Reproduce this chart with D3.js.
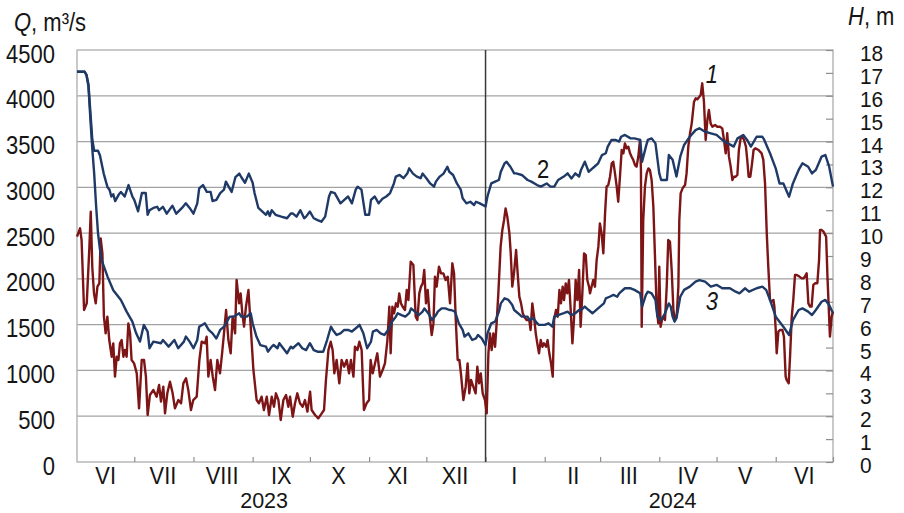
<!DOCTYPE html>
<html lang="en">
<head>
<meta charset="UTF-8">
<title>Q and H, VI 2023 – VI 2024</title>
<script src="https://d3js.org/d3.v7.min.js"></script>
<style>
  body { margin: 0; background: #fff; }
  text { font-family: "Liberation Sans", Arial, sans-serif; fill: #151515; }
</style>
</head>
<body>
<script>
// ---- data (day = days since 2023-06-01) ----
const monthLabels = ['VI', 'VII', 'VIII', 'IX', 'X', 'XI', 'XII', 'I', 'II', 'III', 'IV', 'V', 'VI'];
const yearLabels = [['2023', '2023-09-07'], ['2024', '2024-04-08']];
const qTicks = d3.range(0, 4501, 500);
const hTicks = d3.range(0, 19, 1);

// curve 1: discharge Q, m3/s
const series1 = [
  [0,2461],[1.6,2552],[2.4,2425],[3.7,1660],[5.1,1733],[6.5,2352],[7.2,2734],[8,2133],[8.9,1842],[9.8,1733],
  [10.7,1915],[11.7,1951],[12.4,2443],[13.3,2279],[14.1,1587],[15,1405],[15.9,1587],[16.9,1332],[18.2,1150],[19,1296],
  [19.9,932],[20.8,1150],[21.7,1114],[22.5,1296],[23.4,1332],[24.3,1150],[25.1,1223],[26,1150],[26.9,1514],[27.8,1405],
  [28.6,1114],[29.9,1077],[31.3,968],[32.5,586],[33.9,1114],[35.1,1114],[36.1,932],[37,513],[38.2,732],[40,786],
  [41.7,713],[43,841],[44,659],[45.2,823],[46.1,531],[47.3,750],[48.7,877],[50.1,750],[51.3,586],[53.1,677],
  [54.5,641],[55.7,859],[57.1,914],[58.3,786],[59.7,568],[60.9,677],[62.7,713],[64.1,1114],[65.3,1314],[67.1,1296],
  [67.9,1369],[68.8,932],[70,1114],[71.1,932],[72.3,786],[73.5,1114],[74.9,968],[76,1187],[77,1405],[78.1,1660],
  [79.3,1332],[80.5,1187],[81.5,1587],[82.8,1405],[83.6,1988],[84.9,1733],[85.7,1842],[86.6,1624],[87.5,1478],[88.5,1696],
  [89.8,1878],[91,1478],[92.4,1005],[94.1,677],[95.3,641],[96.7,713],[97.9,568],[99.4,713],[100.6,513],
  [102,713],[103.2,604],[104.2,750],[105.5,677],[106.7,459],[108.1,677],[109.5,732],[110.7,604],[111.6,713],[113,495],
  [114.2,641],[115.4,750],[116.8,641],[118.2,604],[119.4,677],[120.7,550],[122.1,768],[122.9,568],[124.7,513],[126.4,477],
  [128.2,531],[129.4,568],[130.4,896],[131.7,1223],[132.9,1314],[133.9,1223],[134.8,968],[136,1114],[137.4,859],[138.6,1114],
  [139.9,1041],[141.3,1114],[142.5,968],[143.5,1114],[144.8,932],[145.6,1259],[146.9,1223],[147.9,1314],[149.1,1223],[150.3,568],
  [151.7,641],[153,677],[153.8,1114],[154.9,968],[156.1,1077],[157.3,1187],[158.7,932],[160.1,1005],[161.3,1077],[162.6,1332],
  [163.6,1696],[164.3,1187],[165.2,1696],[166.1,1624],[167.1,1733],[168,1696],[168.8,1842],[169.7,1733],[170.6,1696],[171.8,1660],
  [172.7,1878],[173.6,1769],[174.8,2188],[176.2,2152],[177.4,1587],[178.3,1551],[179.3,1842],[180.2,1915],[181.1,1951],[181.9,2097],
  [182.8,1733],[183.7,1878],[184.6,1624],[185.8,1387],[186.7,1514],[187.5,2024],[188.4,1915],[189.6,2133],[190.7,2060],[191.9,2060],
  [193.1,1988],[194.2,2024],[195.4,1733],[196.6,2170],[197.5,2060],[198.4,1551],[199.4,1114],[200.3,1114],[201.1,968],[202.4,677],
  [203.6,823],[204.6,1077],[205.5,750],[206.4,896],[207.6,823],[208.8,750],[209.7,1041],[210.6,859],[211.5,968],
  [212.5,750],[213.7,677],[214.6,531],[215.5,1187],[216.3,1405],[217.2,1223],[218.1,1405],[219,1259],[219.8,1514],[220.7,1842],
  [221.9,2352],[222.8,2534],[223.7,2643],[224.5,2770],[225.4,2679],[226.5,2497],[227.2,2279],[228,1915],[228.9,2060],[230,2315],
  [230.7,2097],[231.7,1806],[232.6,1733],[233.5,1624],[234.3,1587],[235.5,1551],[236.9,1551],[237.6,1442],[238.5,1733],[239.4,1587],
  [240.3,1405],[241.1,1296],[242,1187],[242.9,1332],[243.8,1259],[244.6,1296],[245.7,1259],[246.5,1332],[247.4,1187],[248.3,1077],
  [249.2,932],[249.9,1551],[250.9,1660],[251.8,1587],[252.7,1878],[253.5,1733],[254.4,1915],[255.1,1769],[256,1951],[256.8,1842],
  [257.7,1988],[258.6,1660],[259.5,1296],[260.3,1551],[261.2,1988],[262.1,1769],[263,2097],[263.8,1478],[264.7,1842],[265.6,2279],
  [266.5,2261],[267.3,1988],[268.2,1915],
  [268.7,1842],[270.4,1988],[271.3,1915],[272.2,2206],[273.1,2352],[273.9,2606],[274.8,2497],[275.7,2279],[276.6,2716],[277.4,3007],
  [278.3,3025],[279.2,3116],[280.1,3262],[280.9,3280],[281.8,3152],[282.7,3007],[283.5,2843],[284.4,3116],[285.3,3407],[286.2,3371],
  [287,3480],[287.9,3426],[288.8,3444],[289.7,3371],[290.5,3334],[291.4,3298],[292.3,3243],[293.1,3225],[294,3334],[294.9,3517],
  [295.4,3189],[295.8,1478],[296.6,2643],[297.5,3007],[298.4,3152],[299.3,3207],[300.1,3189],[301,3080],[301.9,2788],[302.7,2279],
  [303.6,1696],[304.5,1514],[305,2133],[305.7,1478],[306.4,1551],[307.1,1587],[308,1551],[308.9,1915],[309.7,2424],[310.6,2406],
  [311.5,2097],[312.4,1660],[313.2,1551],[314.1,1587],[315,1915],[315.5,2643],[316.2,2934],[317.2,2989],[318.5,3025],[319.3,3152],
  [320.2,3444],[321.1,3589],[322,3699],
  [323.2,3935],[324.1,3972],[324.9,3961],[325.8,3983],[326.7,4008],[327.5,4136],[328.4,3935],[329.3,3517],[330.2,3735],[331,3845],
  [331.9,3699],[332.8,3662],[334.2,3681],[335.4,3662],[336.8,3662],[338,3644],[338.9,3517],[339.8,3371],[340.6,3590],[341.5,3335],
  [342.4,3226],[343.3,3080],[344.1,3116],[345,3116],[345.9,3135],[346.7,3408],[347.6,3535],[348.5,3553],[349.4,3517],[350.4,3444],
  [351.1,3298],[351.8,3116],[352.7,3116],[353.6,3262],[354.4,3408],[355.3,3426],[357,3408],[358.6,3371],
  [359.5,3300],[360.4,3044],[361.3,2498],[362.1,2134],[363,1770],[363.9,1752],[364.8,1770],[365.3,1697],[366,1442],[366.5,1187],
  [367.4,1424],[368.3,1442],[369.5,1442],[370.3,1369],[371.2,932],[371.7,896],[372.8,860],[373.5,1151],[374.4,1588],[375.2,1770],
  [376.1,2043],[377,2043],[378.4,2025],[379.6,2006],[380.5,2006],[381.3,2025],[382.2,2061],[383.1,1733],[384,1697],[384.8,1697],
  [385.7,1934],[386.6,1952],[387.8,1952],[388.7,2207],[389.2,2534],[390.1,2534],[391,2516],[392.4,2461],[393.1,2025],[393.6,1770],
  [394.4,1369],[395.3,1588],[396,1642]
];

// curve 2: level H, m (upper)
const series2 = [
  [0,17.05],[4,17.05],[5,16.9],[6,16.5],[7,15.3],[8,14.1],[9,13.6],[11,13.6],[12,13.4],[14,12.6],
  [16,12.0],[17,11.9],[18,11.6],[19,11.7],[20,11.4],[22,11.7],[23,11.8],[25,11.6],[27,12.1],[29,11.6],
  [30,11.45],[32,10.95],[34,11.75],[36,11.75],[37,10.8],[38,11.0],[40,11.1],[42,11.15],[43,11.0],[45,11.15],
  [47,10.85],[50,11.2],[52,10.85],[55,11.1],[57,11.3],[59,11.1],[61,10.85],[63,11.3],[64,11.95],[66,12.1],
  [68,11.8],[70,11.8],[71,11.4],[73,11.45],[75,11.75],[77,11.9],[78,12.25],[79,12.1],[81,11.8],[83,12.45],
  [85,12.6],[86,12.45],[88,12.2],[90,12.6],[92,12.2],[93,11.75],[95,11.1],[97,10.95],[99,10.8],[100,10.95],[101,10.75],
  [102,11.0],[104,10.8],[107,10.72],[110,10.65],[112,10.86],[113,10.86],[115,10.72],[117,11.0],[119,10.65],[120,10.72],
  [122,10.94],[124,10.65],[126,10.57],[128,10.5],[130,10.72],[132,11.6],[133,11.8],[135,11.75],[138,11.3],[140,11.45],
  [142,11.6],[144,11.3],[146,11.9],[147,12.03],[149,11.9],[151,10.8],[153,10.8],[154,11.45],[156,11.6],[158,11.3],
  [160,11.5],[162,11.6],[164,11.75],[166,12.17],[167,12.47],[169,12.54],[171,12.4],[173,12.6],[174,12.83],[176,12.6],
  [178,12.47],[180,12.4],[181,12.6],[183,12.4],[185,12.17],[187,12.03],[188,12.25],[190,12.47],[192,12.6],[194,12.9],
  [195,12.68],[197,12.54],[199,12.17],[201,11.9],[202,11.52],[204,11.3],[206,11.37],[208,11.23],[209,11.37],[211,11.3],[214,11.16],
  [215,11.6],[217,12.17],[219,12.25],[221,12.32],[222,12.68],[224,13.05],[225,13.12],[227,12.9],[229,12.61],[230,12.61],
  [233,12.54],[236,12.32],[238,12.25],[241,12.1],[243,12.03],[246,12.17],[248,12.03],[250,12.03],[252,12.32],[255,12.47],
  [257,12.61],[259,12.39],[261,12.61],[263,12.47],[264,12.76],[266,13.12],[268,12.68],[270,12.83],[271,12.9],[273,13.05],
  [275,13.41],[277,13.49],[278,13.78],[280,14.07],[282,14.07],[284,14.0],[285,14.21],[287,14.29],[290,14.14],[292,14.14],
  [295,14.07],[296,13.12],[298,13.78],[299,14.07],[301,14.14],[303,13.92],[305,12.61],[306,12.32],[309,12.32],
  [310,13.41],[312,13.2],[314,12.47],[316,13.34],[318,13.85],[321,14.21],[324,14.5],[326,14.58],[329,14.43],[332,14.36],
  [335,14.29],[338,14.07],[341,13.92],[344,13.78],[346,14.14],[349,14.29],[351,14.07],[353,13.78],[356,14.21],[359,14.21],
  [360,14.07],[363,13.49],[366,12.83],[368,12.17],[370,12.17],[373,11.59],[375,12.17],[378,12.76],[380,13.05],[383,12.9],
  [385,12.61],[387,12.76],[390,13.34],[392,13.41],[394,12.9],[396,12.03]
];

// curve 3: level H, m (lower)
const series3 = [
  [0,17.05],[4,17.05],[5,16.9],[6,16.4],[7,15.0],[8,13.7],[9,12.6],[10,11.2],[11,10.0],[12,9.3],
  [13,8.8],[16,8.1],[19,7.5],[23,7.08],[26,6.57],[29,6.13],[31,5.62],[33,5.26],[35,5.99],[37,5.7],
  [38,4.97],[40,5.26],[44,5.19],[45,5.33],[48,5.04],[51,5.33],[53,4.97],[56,5.26],[57,5.48],[59,5.26],
  [61,4.97],[63,5.33],[64,5.91],[67,6.06],[69,5.77],[71,5.62],[73,5.40],[75,5.77],[77,5.91],[78,6.06],
  [80,6.35],[82,6.35],[85,6.5],[86,6.35],[89,6.35],[91,6.5],[92,6.06],[94,5.48],[96,5.11],[99,5.04],[100,4.82],[102,5.04],
  [103,5.11],[105,4.97],[106,5.19],[108,4.97],[110,4.75],[112,5.04],[113,4.97],[116,5.19],[118,4.97],[120,4.89],
  [122,5.19],[124,4.89],[126,4.82],[129,4.82],[131,5.33],[133,5.91],[134,5.77],[136,5.55],[138,5.62],[140,5.77],
  [142,5.77],[144,5.70],[147,5.91],[148,5.99],[150,5.62],[152,4.97],[154,5.26],[155,5.70],[157,5.77],[159,5.62],
  [161,5.55],[163,5.77],[165,6.13],[167,6.35],[168,6.5],[170,6.42],[172,6.35],[174,6.5],[175,6.71],[177,6.57],
  [179,6.42],[181,6.57],[182,6.71],[184,6.5],[186,6.2],[188,6.42],[189,6.57],[191,6.71],[193,6.71],[195,6.64],
  [196,6.64],[198,6.57],[200,6.06],[202,5.77],[203,5.48],[205,5.62],[207,5.33],[209,5.40],[210,5.55],[212,5.40],[214,5.11],
  [215,5.62],[217,6.06],[219,6.13],[221,6.57],[222,6.93],[224,7.15],[226,7.08],[228,6.86],[229,6.64],[231,6.5],
  [233,6.35],[236,6.35],[237,6.2],[239,6.28],[241,6.06],[242,5.99],[245,5.99],[247,6.06],[249,5.91],[250,6.35],
  [252,6.42],[255,6.5],[257,6.57],[259,6.42],[261,6.5],[263,6.64],[264,6.64],[266,6.79],[268,6.64],[270,6.5],
  [271,6.57],[274,6.79],[276,6.93],[277,7.15],[279,7.22],[281,7.3],[283,7.22],[284,7.37],[287,7.59],[290,7.59],
  [292,7.52],[295,7.37],[296,6.79],[298,7.3],[299,7.44],[301,7.37],[303,7.08],[304,6.35],[306,6.2],[308,6.5],[310,6.93],
  [311,6.79],[312,6.35],[313,6.13],[314,6.28],[316,7.22],[318,7.52],[321,7.66],[324,7.88],[326,7.95],[329,7.88],
  [332,7.66],[335,7.74],[338,7.59],[342,7.59],[345,7.44],[347,7.37],[350,7.59],[352,7.44],[356,7.59],[359,7.66],
  [361,7.52],[363,7.08],[366,6.35],[368,6.13],[370,5.91],[373,5.55],[375,6.2],[378,6.64],[380,6.71],[383,6.57],
  [385,6.42],[387,6.64],[390,7.0],[392,7.08],[394,6.86],[396,6.5]
];

// ---- chart ----
const width = 904, height = 513;
const pL = 77, pR = 833, pT = 50, pB = 462;
const fs = '25px';
const narrow = 'scale(0.88,1)';   // reference glyphs are a bit condensed

const t0 = Date.UTC(2023, 5, 1);
const dayDate = d => new Date(t0 + d * 864e5);

const x = d3.scaleUtc().domain([new Date(t0), new Date(Date.UTC(2024, 6, 1))]).range([pL, pR]);
const yQ = d3.scaleLinear().domain([0, 4500]).range([pB, pT]);
const yH = d3.scaleLinear().domain([0, 18]).range([pB, pT]);

const svg = d3.select('body').append('svg')
  .attr('width', width)
  .attr('height', height);

// grid
svg.append('g').selectAll('line')
  .data(qTicks.filter(v => v > 0 && v < 4500))
  .join('line')
  .attr('x1', pL).attr('x2', pR)
  .attr('y1', d => yQ(d)).attr('y2', d => yQ(d))
  .attr('stroke', '#a3a3a3').attr('stroke-width', 1.2);

svg.append('rect')
  .attr('x', pL).attr('y', pT)
  .attr('width', pR - pL).attr('height', pB - pT)
  .attr('fill', 'none').attr('stroke', '#adadad').attr('stroke-width', 1.3);

// left axis (Q)
const axL = svg.append('g').attr('transform', `translate(${pL},0)`)
  .call(d3.axisLeft(yQ).tickValues(qTicks).tickFormat(d3.format('d')).tickSize(0).tickPadding(0));
axL.select('.domain').remove();
axL.selectAll('text')
  .attr('x', null).attr('dy', null).attr('y', 12)
  .attr('transform', `translate(-22,0) ${narrow}`)
  .style('font-size', fs);

// right axis (H), ticks point inward
const axR = svg.append('g').attr('transform', `translate(${pR},0)`)
  .call(d3.axisRight(yH).tickValues(hTicks).tickFormat(d3.format('d')).tickSizeInner(-7).tickSizeOuter(0));
axR.select('.domain').remove();
axR.selectAll('line').attr('stroke', '#8f8f8f').attr('stroke-width', 1.2);
axR.selectAll('text')
  .attr('x', null).attr('dy', null).attr('y', 10.5)
  .attr('transform', 'translate(27,0) scale(0.95,1)')
  .style('font-size', '22px');

// bottom month ticks
const monthStarts = d3.utcMonth.range(new Date(t0), new Date(Date.UTC(2024, 6, 1)));
const axB = svg.append('g').attr('transform', `translate(0,${pB})`)
  .call(d3.axisBottom(x)
    .tickValues(d3.utcMonth.range(new Date(Date.UTC(2023, 6, 1)), new Date(Date.UTC(2024, 6, 2))))
    .tickSizeInner(-5).tickSizeOuter(0).tickFormat(''));
axB.select('.domain').remove();
axB.selectAll('line').attr('stroke', '#8f8f8f').attr('stroke-width', 1.2);

svg.append('g').selectAll('text')
  .data(monthStarts)
  .join('text')
  .attr('transform', d => `translate(${x(d3.utcDay.offset(d, 15))},483.5) scale(0.95,1)`)
  .attr('text-anchor', 'middle')
  .style('font-size', '23px')
  .text((d, i) => monthLabels[i]);

svg.append('g').selectAll('text')
  .data(yearLabels)
  .join('text')
  .attr('transform', d => `translate(${x(new Date(d[1]))},508.3)`)
  .attr('text-anchor', 'middle')
  .style('font-size', '21.5px')
  .text(d => d[0]);

// year boundary
svg.append('line')
  .attr('x1', x(new Date(Date.UTC(2024, 0, 1)))).attr('x2', x(new Date(Date.UTC(2024, 0, 1))))
  .attr('y1', pT).attr('y2', pB)
  .attr('stroke', '#3a3a3a').attr('stroke-width', 1.5);

// curves
const lineQ = d3.line().x(d => x(dayDate(d[0]))).y(d => yQ(d[1]));
const lineH = d3.line().x(d => x(dayDate(d[0]))).y(d => yH(d[1]));

svg.append('path').datum(series1)
  .attr('d', lineQ)
  .attr('fill', 'none').attr('stroke', '#7d1517').attr('stroke-width', 2.4)
  .attr('stroke-linejoin', 'round');

[series2, series3].forEach(s => {
  svg.append('path').datum(s)
    .attr('d', lineH)
    .attr('fill', 'none').attr('stroke', '#1f3a66').attr('stroke-width', 2.4)
    .attr('stroke-linejoin', 'round');
});

// curve numbers
const marks = [['1', 332.6, 16.56, 'italic'], ['2', 244.1, 12.4, 'normal'], ['3', 332.6, 6.64, 'italic']];
svg.append('g').selectAll('text')
  .data(marks)
  .join('text')
  .attr('transform', d => `translate(${x(dayDate(d[1]))},${yH(d[2])}) ${narrow}`)
  .attr('text-anchor', 'middle')
  .style('font-size', fs)
  .style('font-style', d => d[3])
  .text(d => d[0]);

// axis titles
const tq = svg.append('text').attr('transform', `translate(14,31) ${narrow}`).style('font-size', fs);
tq.append('tspan').style('font-style', 'italic').text('Q');
tq.append('tspan').text(', m³/s');

const th = svg.append('text').attr('transform', `translate(848,25) ${narrow}`).style('font-size', fs);
th.append('tspan').style('font-style', 'italic').text('H');
th.append('tspan').text(', m');
</script>
</body>
</html>
